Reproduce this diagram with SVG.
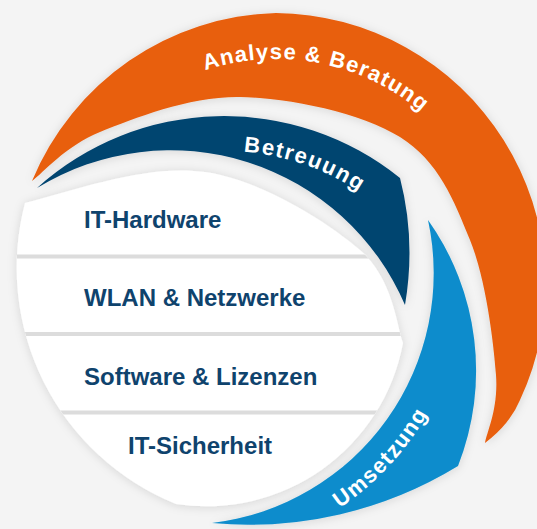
<svg xmlns="http://www.w3.org/2000/svg" width="537" height="529" viewBox="0 0 537 529">
<defs>
<style>
.row{font-family:"Liberation Sans",Arial,sans-serif;font-weight:bold;font-size:24px;fill:#0f436d}
.arc{font-family:"Liberation Sans",Arial,sans-serif;font-weight:bold;font-size:22px;fill:#ffffff}
.sep{stroke:#dcdcdc;stroke-width:4}
</style>
<filter id="sh" x="-20%" y="-20%" width="140%" height="140%">
<feDropShadow dx="0" dy="1" stdDeviation="5" flood-color="#000000" flood-opacity="0.13"/>
</filter>
<path id="pAnalyse" d="M130.7,111.9 A226,226 0 0 1 488.4,207.7" fill="none"/>
<path id="pBetreuung" d="M101.5,183.8 A245,245 0 0 1 436.2,273.5" fill="none"/>
<path id="pUmsetzung" d="M231.1,551.7 A283,283 0 0 0 460.7,322.1" fill="none"/>
<clipPath id="whiteClip">
<path d="M25,203 C85,187 149.2,164.2 205,172 C260.8,179.8 327,221.5 360,250 C393,278.5 396.6,325.8 403,343 A200,200 0 0 1 176,504 A255,255 0 0 1 25,203 Z"/>
</clipPath>
</defs>
<rect width="537" height="529" fill="#f4f4f4"/>

<g id="analyse-beratung">
<path filter="url(#sh)" fill="#e85e0e" d="M32,181 A272,272 0 0 1 276,13 A272,272 0 0 1 520,400 Q510,424 485,443 C486.8,431.7 498.5,408.8 496,375 C493.5,341.2 486,279.7 470,240 C454,200.3 438.3,160.8 400,137 C361.7,113.2 290,97.8 240,97 C190,96.2 134.7,118 100,132 C65.3,146 43.3,172.8 32,181 Z"/>
<text class="arc" letter-spacing="1.2"><textPath href="#pAnalyse" startOffset="201" text-anchor="middle">Analyse &amp; Beratung</textPath></text>
</g>

<g id="betreuung">
<path filter="url(#sh)" fill="#054470" d="M37,188 A280,280 0 0 1 400,178 Q416,240 405,305 A255,255 0 0 0 37,188 Z"/>
<text class="arc" letter-spacing="1.6"><textPath href="#pBetreuung" startOffset="210" text-anchor="middle">Betreuung</textPath></text>
</g>

<g id="umsetzung">
<path filter="url(#sh)" fill="#0a8ccc" d="M428,220 A260,260 0 0 1 458,466 A400,400 0 0 1 212,523 A251.5,251.5 0 0 0 428,220 Z"/>
<text class="arc" letter-spacing="1.4"><textPath href="#pUmsetzung" startOffset="183.2" text-anchor="middle">Umsetzung</textPath></text>
</g>

<g id="leistungen">
<path filter="url(#sh)" fill="#ffffff" d="M25,203 C85,187 149.2,164.2 205,172 C260.8,179.8 327,221.5 360,250 C393,278.5 396.6,325.8 403,343 A200,200 0 0 1 176,504 A255,255 0 0 1 25,203 Z"/>
<g clip-path="url(#whiteClip)">
<line class="sep" x1="0" y1="256.5" x2="537" y2="256.5"/>
<line class="sep" x1="0" y1="334" x2="537" y2="334"/>
<line class="sep" x1="0" y1="412.5" x2="537" y2="412.5"/>
</g>
<g id="it-hardware"><text class="row" x="84" y="228">IT-Hardware</text></g>
<g id="wlan-netzwerke"><text class="row" x="84" y="305.5">WLAN &amp; Netzwerke</text></g>
<g id="software-lizenzen"><text class="row" x="84" y="384.5">Software &amp; Lizenzen</text></g>
<g id="it-sicherheit"><text class="row" x="128" y="453.5">IT-Sicherheit</text></g>
</g>
</svg>
